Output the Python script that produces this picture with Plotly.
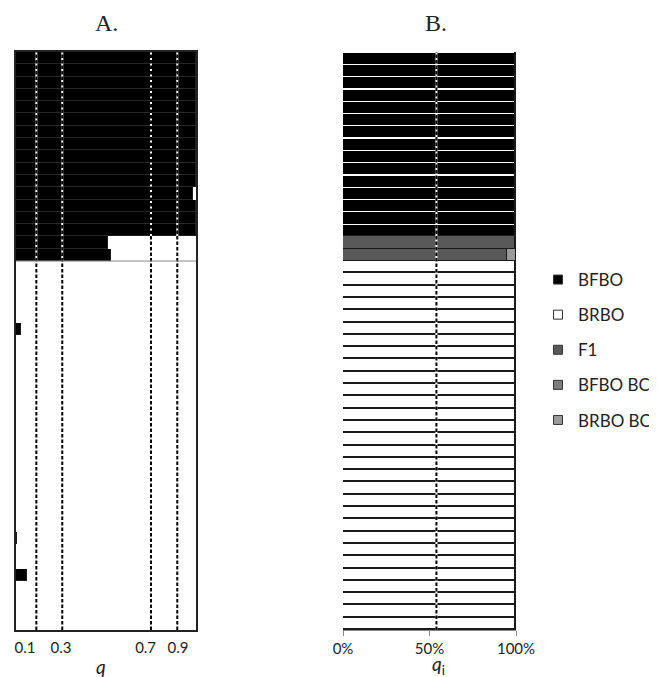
import plotly.graph_objects as go

# ---------------- data ----------------
# Panel A: membership coefficient q for each individual (top to bottom)
A_q = [1, 1, 1, 1, 1, 1, 1, 1, 1, 1, 1, 0.985, 1, 1, 1,
       0.513, 0.526,
       0, 0, 0, 0, 0, 0.025, 0, 0, 0, 0,
       0, 0, 0, 0, 0, 0, 0, 0, 0, 0,
       0, 0, 0.004, 0, 0, 0.06, 0, 0, 0, 0]
A_threshold_pos = [0.113, 0.257, 0.75, 0.896]
A_tick_pos = [0.05, 0.25, 0.72, 0.9]
A_tick_text = ["0.1", "0.3", "0.7", "0.9"]

# Panel B: assignment probabilities per class (top to bottom)
classes = ["BFBO", "BRBO", "F1", "BFBO BC", "BRBO BC"]
B_BFBO = [1, 1, 1, 1, 1, 1, 1, 1, 1, 1, 1, 1, 1, 1, 1,
          0, 0,
          0, 0, 0, 0, 0, 0, 0, 0, 0, 0, 0, 0, 0, 0, 0,
          0, 0, 0, 0, 0, 0, 0, 0, 0, 0, 0, 0, 0, 0, 0]
B_BRBO = [0, 0, 0, 0, 0, 0, 0, 0, 0, 0, 0, 0, 0, 0, 0,
          0, 0,
          1, 1, 1, 1, 1, 1, 1, 1, 1, 1, 1, 1, 1, 1, 1,
          1, 1, 1, 1, 1, 1, 1, 1, 1, 1, 1, 1, 1, 1, 1]
B_F1 = [0, 0, 0, 0, 0, 0, 0, 0, 0, 0, 0, 0, 0, 0, 0,
        0.995, 0.948,
        0, 0, 0, 0, 0, 0, 0, 0, 0, 0, 0, 0, 0, 0, 0,
        0, 0, 0, 0, 0, 0, 0, 0, 0, 0, 0, 0, 0, 0, 0]
B_BFBO_BC = [0, 0, 0, 0, 0, 0, 0, 0, 0, 0, 0, 0, 0, 0, 0,
             0.005, 0,
             0, 0, 0, 0, 0, 0, 0, 0, 0, 0, 0, 0, 0, 0, 0,
             0, 0, 0, 0, 0, 0, 0, 0, 0, 0, 0, 0, 0, 0, 0]
B_BRBO_BC = [0, 0, 0, 0, 0, 0, 0, 0, 0, 0, 0, 0, 0, 0, 0,
             0, 0.052,
             0, 0, 0, 0, 0, 0, 0, 0, 0, 0, 0, 0, 0, 0, 0,
             0, 0, 0, 0, 0, 0, 0, 0, 0, 0, 0, 0, 0, 0, 0]
B_threshold = 0.54
B_tick_vals = [0, 0.5, 1]
B_tick_text = ["0%", "50%", "100%"]

# ---------------- figure ----------------
W, H = 649, 669
n = len(A_q)
rows = list(range(n))
fig = go.Figure()

# Panel A
fig.add_trace(go.Bar(y=rows, x=A_q, orientation="h", width=1.0,
                     marker=dict(color="#000000", line=dict(color="#2e2e2e", width=0.6)),
                     showlegend=False, xaxis="x", yaxis="y"))
fig.add_trace(go.Bar(y=rows, x=[1 - v for v in A_q], orientation="h", width=1.0,
                     marker=dict(color="#ffffff", line=dict(color="#ffffff", width=0)),
                     showlegend=False, xaxis="x", yaxis="y"))

# Panel B
colors = {"BFBO": "#000000", "BRBO": "#ffffff", "F1": "#595959",
          "BFBO BC": "#7d7d7d", "BRBO BC": "#9a9a9a"}
series = {"BFBO": B_BFBO, "BRBO": B_BRBO, "F1": B_F1,
          "BFBO BC": B_BFBO_BC, "BRBO BC": B_BRBO_BC}
bar_width = {"BFBO": 0.9, "BRBO": 1.0, "F1": 1.0, "BFBO BC": 1.0, "BRBO BC": 1.0}
bar_line = {"BFBO": 0, "BRBO": 1.8, "F1": 1.3, "BFBO BC": 1.3, "BRBO BC": 1.3}
for name in classes:
    fig.add_trace(go.Bar(y=rows, x=series[name], orientation="h", width=bar_width[name],
                         name=name, legendgroup=name, showlegend=False,
                         marker=dict(color=colors[name],
                                     line=dict(color="#1a1a1a", width=bar_line[name])),
                         xaxis="x2", yaxis="y2"))
# legend entries (small square keys)
for name in classes:
    fig.add_trace(go.Scatter(x=[None], y=[None], mode="markers", name=name,
                             legendgroup=name,
                             marker=dict(symbol="square", size=9, color=colors[name],
                                         line=dict(color="#333333", width=1)),
                             xaxis="x2", yaxis="y2"))

ydom = [1 - 622 / H, 1 - 44 / H]
fig.update_layout(
    width=W, height=H,
    margin=dict(l=0, r=0, t=0, b=0, autoexpand=False),
    paper_bgcolor="white", plot_bgcolor="white",
    barmode="stack", bargap=0,
    font=dict(family="Lato", color="#222222"),
    xaxis=dict(domain=[8 / W, 188 / W], range=[0, 1], tickvals=A_tick_pos,
               ticktext=A_tick_text, ticks="outside", ticklen=3,
               tickcolor="rgba(0,0,0,0)", showgrid=False, zeroline=False,
               showline=True, mirror=True, linecolor="#222222", linewidth=1.5,
               tickfont=dict(family="Lato", size=15, color="#222222"), fixedrange=True),
    yaxis=dict(domain=ydom, range=[n - 0.5, -0.5], showticklabels=False, ticks="",
               showgrid=False, zeroline=False, showline=True, mirror=True,
               linecolor="#222222", linewidth=1.5),
    xaxis2=dict(domain=[335 / W, 508 / W], range=[0, 1], tickvals=B_tick_vals,
                ticktext=B_tick_text, ticks="outside", ticklen=5, tickcolor="#888888",
                showgrid=False, zeroline=False, showline=True, linecolor="#888888",
                linewidth=1, anchor="y2",
                tickfont=dict(family="Lato", size=15, color="#222222")),
    yaxis2=dict(domain=ydom, range=[n - 0.5, -0.5], showticklabels=False, ticks="",
                showgrid=False, zeroline=False, showline=False, anchor="x2"),
    legend=dict(x=530 / W, y=1 - 254 / H, xanchor="left", yanchor="top",
                font=dict(family="Lato", size=17, color="#222222"),
                tracegroupgap=10, bgcolor="rgba(0,0,0,0)", traceorder="grouped",
                itemsizing="trace", itemwidth=30),
)

shapes = []
for xp in A_threshold_pos:
    shapes.append(dict(type="line", xref="x", yref="y domain", x0=xp, x1=xp, y0=0, y1=1,
                       line=dict(color="white", width=2), layer="above"))
    shapes.append(dict(type="line", xref="x", yref="y domain", x0=xp, x1=xp, y0=0, y1=1,
                       line=dict(color="black", width=2, dash="3.5px,2px"), layer="above"))
shapes.append(dict(type="line", xref="x2", yref="y2 domain", x0=B_threshold, x1=B_threshold,
                   y0=0, y1=1, line=dict(color="white", width=2), layer="above"))
shapes.append(dict(type="line", xref="x2", yref="y2 domain", x0=B_threshold, x1=B_threshold,
                   y0=0, y1=1, line=dict(color="black", width=2, dash="3.5px,2px"),
                   layer="above"))
# boundary below the hybrid rows in panel A
n_top = sum(1 for v in B_BFBO if v > 0) + sum(1 for v in B_F1 if v > 0)
shapes.append(dict(type="line", xref="x domain", yref="y", x0=0, x1=1,
                   y0=n_top - 0.5, y1=n_top - 0.5, line=dict(color="#888888", width=1),
                   layer="above"))
fig.update_layout(shapes=shapes)

fig.add_annotation(text="A.", x=98 / W, y=1 - 15 / H, xref="paper", yref="paper",
                   xanchor="center", yanchor="middle", showarrow=False,
                   font=dict(family="Liberation Serif", size=24, color="#222222"))
fig.add_annotation(text="B.", x=428 / W, y=1 - 15 / H, xref="paper", yref="paper",
                   xanchor="center", yanchor="middle", showarrow=False,
                   font=dict(family="Liberation Serif", size=24, color="#222222"))
fig.add_annotation(text="<i>q</i>", x=93 / W, y=1 - 658 / H, xref="paper", yref="paper",
                   xanchor="center", yanchor="middle", showarrow=False,
                   font=dict(family="Lato", size=19, color="#222222"))
fig.add_annotation(text="<i>q</i><sub>i</sub>", x=430 / W, y=1 - 657 / H, xref="paper",
                   yref="paper", xanchor="center", yanchor="middle", showarrow=False,
                   font=dict(family="Lato", size=19, color="#222222"))

fig.write_html("out.html")
